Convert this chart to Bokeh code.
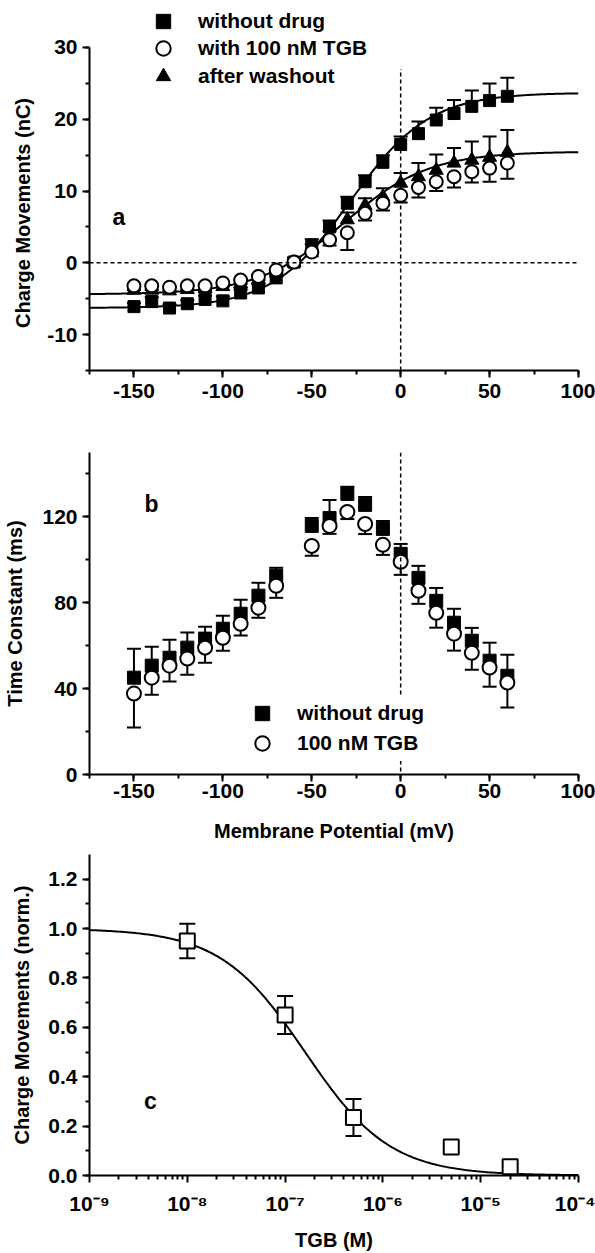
import json
import numpy as np
from bokeh.plotting import figure
from bokeh.layouts import column
from bokeh.models import (Range1d, Span, Whisker, TeeHead, ColumnDataSource, Legend,
                          LegendItem, Label, SingleIntervalTicker, FixedTicker,
                          CustomJSTickFormatter, NumeralTickFormatter)
from bokeh.embed import file_html
from bokeh.resources import INLINE

FONT = "Liberation Sans"

# ---------------- data: panel a (charge movements vs potential) ----------------
V_A = [-150, -140, -130, -120, -110, -100, -90, -80, -70, -60, -50, -40, -30, -20, -10,
       0, 10, 20, 30, 40, 50, 60]
Q_CTRL = [-6.1, -5.4, -6.3, -5.7, -5.1, -5.3, -4.2, -3.5, -2.1, 0.1, 2.5, 5.0, 8.3, 11.3,
          14.0, 16.5, 18.0, 19.9, 20.8, 21.8, 22.6, 23.2]
Q_CTRL_ERR = [0.5, 0.6, 0.5, 0.5, 0.5, 0.6, 0.5, 0.5, 0.5, 0.6, 0.8, 0.9, 0.9, 0.9, 1.0,
              1.1, 1.7, 1.7, 1.9, 2.2, 2.4, 2.6]
Q_TGB = [-3.2, -3.2, -3.4, -3.2, -3.2, -2.8, -2.4, -1.9, -1.0, 0.1, 1.5, 3.2, 4.2, 6.9,
         8.3, 9.4, 10.5, 11.3, 12.0, 12.7, 13.2, 13.9]
Q_TGB_ERR = [0.6, 0.6, 0.5, 0.6, 0.6, 0.5, 0.5, 0.5, 0.5, 0.5, 0.6, 0.8, 2.4, 1.0, 1.0,
             1.0, 1.4, 1.3, 1.5, 1.5, 1.9, 2.2]
Q_WASH = [-3.8, -3.8, -3.9, -3.7, -3.6, -3.3, -2.9, -2.3, -1.4, 0.0, 2.0, 3.6, 6.0, 8.0,
          9.2, 11.1, 12.0, 12.9, 13.9, 14.3, 14.7, 15.4]
Q_WASH_ERR = [0.6, 0.6, 0.6, 0.6, 0.6, 0.6, 0.6, 0.6, 0.6, 0.5, 0.6, 0.8, 1.0, 1.0, 1.2,
              1.4, 1.9, 2.2, 2.1, 2.6, 2.9, 3.1]
# Boltzmann fit parameters (Qmin, Qmax, Vhalf, k)
FIT_CTRL = (-6.3, 23.7, -28.0, 22.0)
FIT_WASH = (-4.4, 15.5, -32.0, 24.0)
LEGEND_A = ["without drug", "with 100 nM TGB", "after washout"]

# ---------------- data: panel b (time constants) ----------------
V_B = [-150, -140, -130, -120, -110, -100, -90, -80, -70, -50, -40, -30, -20, -10,
       0, 10, 20, 30, 40, 50, 60]
TAU_CTRL = [45.1, 50.7, 54.4, 59.1, 63.3, 67.9, 74.9, 83.3, 92.6, 115.8, 119.5, 130.7,
            125.6, 114.4, 102.8, 91.6, 80.9, 70.7, 62.3, 53.0, 46.0]
TAU_CTRL_ERR = [13.5, 8.8, 8.4, 7.0, 5.5, 6.0, 6.5, 6.0, 3.7, 3.7, 8.4, 3.3, 3.7, 3.7,
                4.6, 5.6, 6.0, 6.5, 6.0, 8.4, 9.8]
TAU_TGB = [37.7, 45.1, 50.7, 54.0, 59.1, 63.7, 70.2, 77.7, 87.9, 106.5, 115.8, 122.3,
           116.7, 107.0, 99.1, 85.6, 75.3, 65.6, 56.7, 49.8, 42.8]
TAU_TGB_ERR = [15.8, 7.9, 7.4, 7.5, 7.0, 6.0, 5.5, 4.7, 5.6, 4.6, 3.7, 3.3, 4.7, 4.7,
               6.1, 6.1, 6.9, 7.9, 7.9, 8.9, 11.6]
LEGEND_B = ["without drug", "100 nM TGB"]

# ---------------- data: panel c (dose response) ----------------
CONC = [1e-8, 1e-7, 5e-7, 5e-6, 2e-5]
NORM = [0.95, 0.65, 0.235, 0.115, 0.035]
NORM_ERR = [0.07, 0.077, 0.075, 0.02, 0.015]
HILL_IC50 = 1.6e-7
HILL_N = 1.0
MAJOR_C = [1e-9, 1e-8, 1e-7, 1e-6, 1e-5, 1e-4]
MINOR_C = [m * d for d in MAJOR_C[:-1] for m in range(2, 10)]


def boltz(v, p):
    qmin, qmax, vh, k = p
    return qmin + (qmax - qmin) / (1.0 + np.exp((vh - v) / k))


PLAIN = CustomJSTickFormatter(code="return String(Math.round(tick));")


def style(p):
    p.outline_line_color = None
    p.xgrid.grid_line_color = None
    p.ygrid.grid_line_color = None
    p.background_fill_color = "white"
    p.border_fill_color = "white"
    for ax in p.axis:
        ax.axis_line_width = 2
        ax.axis_line_color = "black"
        ax.major_tick_line_width = 2
        ax.minor_tick_line_width = 2
        ax.major_tick_line_color = "black"
        ax.minor_tick_line_color = "black"
        ax.major_tick_out = 7
        ax.major_tick_in = 0
        ax.minor_tick_out = 4
        ax.minor_tick_in = 0
        ax.major_label_text_font = FONT
        ax.major_label_text_font_size = "21px"
        ax.major_label_text_font_style = "bold"
        ax.major_label_text_color = "black"
        ax.axis_label_text_font = FONT
        ax.axis_label_text_font_size = "20px"
        ax.axis_label_text_font_style = "bold"
        ax.axis_label_text_color = "black"


def whisker(p, src, base, lower, upper, size, up=True, down=False):
    w = Whisker(source=src, base=base, lower=lower, upper=upper, dimension="height",
                line_width=2, line_color="black", level="underlay",
                upper_head=TeeHead(size=size, line_width=2, line_color="black") if up else None,
                lower_head=TeeHead(size=size, line_width=2, line_color="black") if down else None)
    p.add_layout(w)


def one_legend(p, label, renderer, loc, padding, bg):
    lg = Legend(items=[LegendItem(label=label, renderers=[renderer])], location=loc,
                padding=padding, spacing=0, margin=0, glyph_width=36, glyph_height=36,
                label_standoff=17, border_line_color=None,
                label_text_font=FONT, label_text_font_size="21px",
                label_text_font_style="bold", label_text_color="black")
    if bg:
        lg.background_fill_color = "white"
        lg.background_fill_alpha = 1
    else:
        lg.background_fill_alpha = 0
    p.add_layout(lg)


def letter(p, x, y, t):
    p.add_layout(Label(x=x, y=y, text=t, text_font=FONT, text_font_size="23px",
                       text_font_style="bold", text_baseline="alphabetic",
                       text_color="black"))


# ================= panel a =================
# frame extends above the last tick (30) so that the legend rows fit inside it
pa = figure(width=595, height=410, x_range=Range1d(-175, 100), y_range=Range1d(-15, 35.85),
            output_backend="svg", toolbar_location=None,
            min_border_left=89, min_border_right=17, min_border_top=5, min_border_bottom=40)
pa.xaxis.ticker = SingleIntervalTicker(interval=50, num_minor_ticks=2)
pa.yaxis.ticker = SingleIntervalTicker(interval=10, num_minor_ticks=2)
pa.xaxis.formatter = PLAIN
pa.yaxis.formatter = PLAIN
pa.yaxis.bounds = (-15, 30)
# trailing no-break spaces keep the title centred on the drawn axis (-15..30)
pa.yaxis.axis_label = "Charge Movements (nC)" + "\u00a0" * 9
style(pa)
pa.xaxis.major_label_standoff = 6
pa.yaxis.major_label_standoff = 5
pa.yaxis.axis_label_standoff = 10

pa.add_layout(Span(location=0, dimension="width", line_dash="4 3", line_width=1.5,
                   line_color="black"))
REF_X = 0
REF_TOP = 27
pa.segment(x0=[REF_X], y0=[-15], x1=[REF_X], y1=[REF_TOP], line_dash="4 3",
           line_width=1.5, line_color="black")

v_fit = np.linspace(-175, 100, 300)
pa.line(v_fit, boltz(v_fit, FIT_CTRL), line_width=2, line_color="black")
pa.line(v_fit, boltz(v_fit, FIT_WASH), line_width=2, line_color="black")

src_a = ColumnDataSource(dict(
    v=V_A, qc=Q_CTRL, qc_hi=[q + e for q, e in zip(Q_CTRL, Q_CTRL_ERR)],
    qt=Q_TGB, qt_lo=[q - e for q, e in zip(Q_TGB, Q_TGB_ERR)],
    qw=Q_WASH, qw_hi=[q + e for q, e in zip(Q_WASH, Q_WASH_ERR)]))
whisker(pa, src_a, "v", "qc", "qc_hi", 14, up=True)
whisker(pa, src_a, "v", "qw", "qw_hi", 14, up=True)
whisker(pa, src_a, "v", "qt_lo", "qt", 14, up=False, down=True)

r_sq = pa.scatter("v", "qc", source=src_a, marker="square", size=12,
                  fill_color="black", line_color="black")
r_tr = pa.scatter("v", "qw", source=src_a, marker="triangle", size=14,
                  fill_color="black", line_color="black")
r_ci = pa.scatter("v", "qt", source=src_a, marker="circle", size=13,
                  fill_color="white", line_color="black", line_width=2)

one_legend(pa, LEGEND_A[0], r_sq, (56, 331), 0, False)
one_legend(pa, LEGEND_A[1], r_ci, (56, 304), 0, False)
one_legend(pa, LEGEND_A[2], r_tr, (56, 276), 0, False)
letter(pa, -162, 6.4, "a")

# ================= panel b =================
pb = figure(width=595, height=435, x_range=Range1d(-175, 100), y_range=Range1d(0, 150),
            output_backend="svg", toolbar_location=None,
            min_border_left=89, min_border_right=17, min_border_top=42, min_border_bottom=71)
pb.xaxis.ticker = SingleIntervalTicker(interval=50, num_minor_ticks=2)
pb.yaxis.ticker = SingleIntervalTicker(interval=40, num_minor_ticks=2)
pb.xaxis.formatter = PLAIN
pb.yaxis.formatter = PLAIN
pb.yaxis.axis_label = "Time Constant (ms)"
pb.xaxis.axis_label = "Membrane Potential (mV)"
style(pb)
pb.xaxis.major_label_standoff = 2
pb.yaxis.major_label_standoff = 5
pb.yaxis.axis_label_standoff = 13
pb.xaxis.axis_label_standoff = 19

pb.add_layout(Span(location=0, dimension="height", line_dash="4 3", line_width=1.5,
                   line_color="black"))
src_b = ColumnDataSource(dict(
    v=V_B, tc=TAU_CTRL, tc_hi=[t + e for t, e in zip(TAU_CTRL, TAU_CTRL_ERR)],
    tt=TAU_TGB, tt_lo=[t - e for t, e in zip(TAU_TGB, TAU_TGB_ERR)]))
whisker(pb, src_b, "v", "tc", "tc_hi", 14, up=True)
whisker(pb, src_b, "v", "tt_lo", "tt", 14, up=False, down=True)
rb_sq = pb.scatter("v", "tc", source=src_b, marker="square", size=13,
                   fill_color="black", line_color="black")
rb_ci = pb.scatter("v", "tt", source=src_b, marker="circle", size=14,
                   fill_color="white", line_color="black", line_width=2)
one_legend(pb, LEGEND_B[0], rb_sq, (155, 43), 1, True)
one_legend(pb, LEGEND_B[1], rb_ci, (155, 13), 1, True)
letter(pb, -144, 126, "b")

# ================= panel c =================
pc = figure(width=595, height=408, x_axis_type="log", x_range=Range1d(1e-9, 1e-4),
            y_range=Range1d(0, 1.3), output_backend="svg", toolbar_location=None,
            min_border_left=89, min_border_right=17, min_border_top=9, min_border_bottom=76)
pc.xaxis.ticker = FixedTicker(ticks=MAJOR_C, minor_ticks=MINOR_C)
SUP = {"-": "\u207b", "0": "\u2070", "1": "\u00b9", "2": "\u00b2", "3": "\u00b3",
       "4": "\u2074", "5": "\u2075", "6": "\u2076", "7": "\u2077", "8": "\u2078",
       "9": "\u2079"}
pc.xaxis.formatter = CustomJSTickFormatter(code="""
const sup = %s;
const e = Math.round(Math.log10(tick));
return "10" + String(e).split("").map(c => sup[c]).join("");
""" % json.dumps(SUP))
pc.yaxis.ticker = SingleIntervalTicker(interval=0.2, num_minor_ticks=2)
pc.yaxis.formatter = NumeralTickFormatter(format="0.0")
pc.yaxis.axis_label = "Charge Movements (norm.)"
pc.xaxis.axis_label = "TGB (M)"
style(pc)
pc.xaxis.major_label_standoff = 9
pc.yaxis.major_label_standoff = 5
pc.yaxis.axis_label_standoff = 12
pc.xaxis.axis_label_standoff = 11

c_fit = np.logspace(-9, -4, 300)
pc.line(c_fit, 1.0 / (1.0 + (c_fit / HILL_IC50) ** HILL_N), line_width=2, line_color="black")
src_c = ColumnDataSource(dict(
    c=CONC, y=NORM, lo=[y - e for y, e in zip(NORM, NORM_ERR)],
    hi=[y + e for y, e in zip(NORM, NORM_ERR)]))
whisker(pc, src_c, "c", "lo", "hi", 16, up=True, down=True)
pc.scatter("c", "y", source=src_c, marker="square", size=15, fill_color="white",
           line_color="black", line_width=2)
letter(pc, 3.6e-9, 0.30, "c")

layout = column(pa, pb, pc)
open("out.html", "w").write(file_html(layout, INLINE))
